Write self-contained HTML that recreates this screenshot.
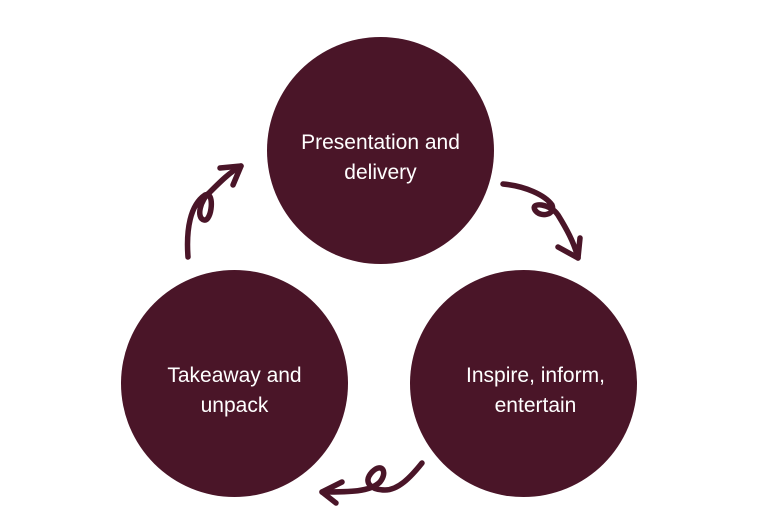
<!DOCTYPE html>
<html><head><style>
html,body{margin:0;padding:0;background:#fff;}
body{width:758px;height:532px;position:relative;overflow:hidden;font-family:"Liberation Sans",sans-serif;}
.c{position:absolute;border-radius:50%;background:#4a1528;color:#fff;display:flex;align-items:center;justify-content:center;text-align:center;font-size:21px;line-height:30px;}
.c span{position:relative;top:7px;}
</style></head><body>
<div class="c" style="left:267px;top:37px;width:227px;height:227px;"><span>Presentation and<br>delivery</span></div>
<div class="c" style="left:121px;top:270px;width:227px;height:227px;"><span>Takeaway and<br>unpack</span></div>
<div class="c" style="left:410px;top:270px;width:227px;height:227px;"><span style="left:12px">Inspire, inform,<br>entertain</span></div>
<svg width="758" height="532" style="position:absolute;left:0;top:0" fill="none" stroke="#4a1528" stroke-width="5.5" stroke-linecap="round" stroke-linejoin="round">
<path d="M188 257 C186 230 190 205 205 195 C215 190 212 222 204 220 C196 218 200 200 210 192 C220 182 230 172 241 166"/>
<path d="M220 168 L241 166 L233 185"/>
<path d="M503 184 C525 186 545 195 552 205 C556 215 540 218 535 210 C530 202 550 203 558 215 C566 228 574 242 578 258"/>
<path d="M558 247 L578 258 L580 238"/>
<path d="M422 463 C410 478 398 490 385 490 C372 490 362 483 372 472 C382 462 388 472 380 482 C370 492 350 492 322 492"/>
<path d="M342 482 L322 492 L336 503"/>
</svg>
</body></html>
